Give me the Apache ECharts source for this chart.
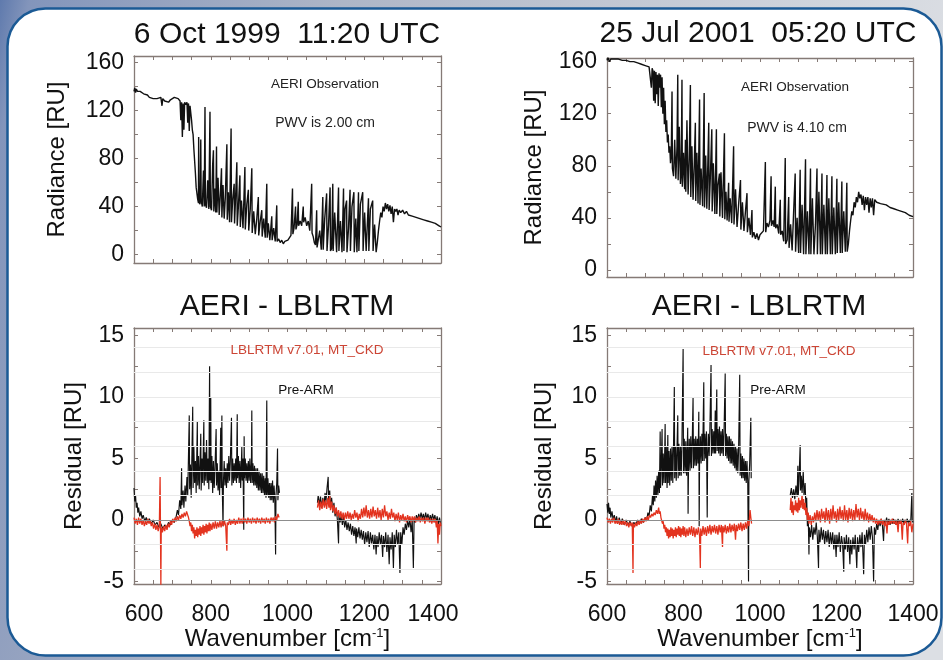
<!DOCTYPE html>
<html><head><meta charset="utf-8">
<script src="https://cdn.jsdelivr.net/npm/echarts@6/dist/echarts.min.js"></script>
<style>html,body{margin:0;padding:0;background:#fff}#c{width:943px;height:660px}</style>
</head><body><div id="c"></div>
<script>
// ---------- text ----------
const titleLeft = '6 Oct 1999  11:20 UTC';
const titleRight = '25 Jul 2001  05:20 UTC';
const residTitle = 'AERI - LBLRTM';
const obsLabel = 'AERI Observation';
const pwvLeft = 'PWV is 2.00 cm';
const pwvRight = 'PWV is 4.10 cm';
const newModelLabel = 'LBLRTM v7.01, MT_CKD';
const oldModelLabel = 'Pre-ARM';

// ---------- axes ----------
const wnRange = [600, 1400];
const wnTicks = [600,650,700,750,800,850,900,950,1000,1050,1100,1150,1200,1250,1300,1350,1400];
const wnLabels = [600,800,1000,1200,1400];
const radRangeLeft = [-7, 165.5];
const radRangeRight = [-5.4, 162.8];
const radTicks = [0,20,40,60,80,100,120,140,160];
const radLabels = [0,40,80,120,160];
const resRange = [-5.2, 15.6];
const resTicks = [-5,-2.5,0,2.5,5,7.5,10,12.5,15];
const resLabels = [-5,0,5,10,15];
const resGrid = [-4,-2,2,4,6,8,10,12,14];
const resZero = [0];

// ---------- radiance spectra [wavenumber, RU] ----------
const radOct1999 = [[600,136],[602,139],[604,135],[606,138],[609,136],[612,137],[616,136],[620,135],[625,134],[630,133],[635,133],[640,131],[645,132],[650,130],[655,131],[660,130],[665,129],[670,131],[673,124],[675,130],[680,128],[685,128],[690,127],[695,129],[700,130],[705,131],[710,131],[715,130],[720,128],[722,112],[724,127],[726,98],[728,126],[730,104],[732,127],[735,125],[738,127],[740,110],[742,126],[744,103],[746,124],[748,118],[750,112],[752,104],[754,100],[756,88],[758,78],[760,68],[762,56],[764,51],[766,46],[768,43],[768.5,98],[769,44],[772,42],[774,96],[775,45],[778,40],[781,70],[783,40],[785,123],[786,42],[789,39],[792,62],[795,38],[798,119],[799,40],[802,37],[805,75],[807,87],[808,36],[811,55],[813,35],[815,90],[816,35],[819,64],[822,33],[825,50],[828,72],[829,31],[832,58],[835,30],[838,48],[842,92],[843,29],[846,52],[849,27],[853,105],[854,27],[857,45],[861,59],[862,26],[865,50],[868,77],[869,24],[872,40],[876,66],[877,23],[880,45],[884,22],[889,73],[890,21],[894,42],[898,54],[899,20],[903,38],[907,72],[908,18],[912,36],[916,17],[920,30],[924,48],[925,16],[929,28],[933,37],[934,15],[938,30],[942,14],[946,59],[947,14],[950,26],[954,12],[959,32],[960,12],[964,22],[968,11],[972,41],[973,11],[977,13],[981,10],[985,12],[989,9],[993,11],[997,10],[1001,12],[1005,13],[1009,16],[1013,55],[1014,17],[1017,22],[1021,40],[1022,21],[1025,25],[1028,44],[1029,24],[1033,28],[1037,24],[1041,40],[1042,27],[1046,31],[1050,24],[1054,28],[1058,20],[1063,59],[1064,18],[1067,15],[1070,10],[1073,8],[1076,37],[1077,6],[1080,5],[1084,20],[1088,4],[1092,48],[1093,4],[1097,30],[1102,51],[1103,3],[1107,25],[1111,56],[1112,3],[1115,5],[1118,59],[1119,3],[1123,35],[1128,2],[1133,56],[1134,3],[1138,28],[1142,2],[1146,55],[1147,3],[1150,38],[1154,45],[1155,2],[1159,22],[1163,54],[1164,3],[1168,40],[1173,52],[1174,2],[1178,30],[1181,2],[1185,52],[1186,3],[1190,42],[1196,52],[1197,3],[1201,35],[1205,3],[1211,47],[1212,3],[1216,38],[1222,45],[1223,3],[1227,25],[1231,2],[1234,10],[1237,20],[1240,28],[1243,35],[1246,31],[1249,40],[1252,36],[1255,43],[1258,38],[1261,42],[1264,36],[1267,41],[1270,34],[1273,40],[1276,27],[1279,38],[1282,36],[1285,38],[1288,33],[1291,37],[1295,35],[1300,37],[1305,34],[1310,36],[1315,33],[1320,34],[1325,32],[1330,33],[1335,31],[1340,32],[1345,30],[1350,31],[1355,29],[1360,30],[1365,28],[1370,29],[1375,27],[1380,27],[1385,26],[1390,25],[1395,24],[1400,23]];

const radJul2001 = [[600,161],[603,163],[606,160],[610,162],[615,162],[620,162],[630,162],[640,161],[650,161],[660,160],[670,160],[680,159],[690,158],[700,157],[705,156],[710,156],[714,155],[716,140],[718,155],[720,153],[722,130],[724,153],[726,128],[728,152],[730,135],[732,150],[734,126],[736,151],[738,140],[740,150],[742,125],[744,148],[746,120],[748,140],[750,112],[752,130],[754,106],[756,115],[758,98],[760,104],[762,90],[764,95],[766,82],[768,88],[770,137],[771,78],[774,72],[777,100],[780,70],[783,95],[785,150],[786,69],[789,110],[792,66],[794,74],[796,146],[797,64],[800,90],[803,62],[805,100],[806,60],[809,115],[812,58],[815,85],[818,142],[819,56],[822,95],[825,54],[828,80],[831,113],[832,53],[835,90],[838,51],[842,131],[843,50],[846,78],[850,49],[854,136],[855,48],[858,88],[861,47],[866,113],[867,46],[870,70],[874,108],[875,45],[878,82],[882,43],[886,108],[887,43],[890,65],[894,74],[895,41],[898,75],[902,40],[907,105],[908,39],[911,60],[914,38],[918,67],[919,37],[922,55],[926,36],[931,95],[932,35],[936,62],[940,33],[944,50],[949,69],[950,31],[954,52],[958,30],[962,45],[966,59],[967,29],[971,40],[975,27],[979,46],[980,25],[984,29],[988,24],[992,28],[996,23],[1000,27],[1004,26],[1009,30],[1014,83],[1015,29],[1018,36],[1022,33],[1026,38],[1029,72],[1030,34],[1034,38],[1037,33],[1040,64],[1041,32],[1045,35],[1049,28],[1053,54],[1054,27],[1058,30],[1062,22],[1066,86],[1067,20],[1071,23],[1075,56],[1076,17],[1080,35],[1084,15],[1088,45],[1092,74],[1093,14],[1097,40],[1101,13],[1105,77],[1106,13],[1110,50],[1114,12],[1119,85],[1120,12],[1124,45],[1128,12],[1132,78],[1133,12],[1137,55],[1141,12],[1145,35],[1149,78],[1150,12],[1154,60],[1158,12],[1162,74],[1163,12],[1167,50],[1171,12],[1175,73],[1176,12],[1180,55],[1184,12],[1188,72],[1189,12],[1193,48],[1197,12],[1201,70],[1202,13],[1206,52],[1210,13],[1214,68],[1215,13],[1219,45],[1223,14],[1227,67],[1228,14],[1231,20],[1234,30],[1237,38],[1240,45],[1243,42],[1246,52],[1249,48],[1252,56],[1255,52],[1258,60],[1261,55],[1264,58],[1267,50],[1270,57],[1273,46],[1276,56],[1279,50],[1282,56],[1285,44],[1288,55],[1291,48],[1294,55],[1297,42],[1300,54],[1305,52],[1310,53],[1315,51],[1320,51],[1330,50],[1340,48],[1350,47],[1360,46],[1370,45],[1380,44],[1390,42],[1400,41]];

// ---------- residuals, 6 Oct 1999 [wavenumber, RU] ----------
const preArmOctA = [[600,2.6],[602,1.5],[604,2.0],[606,1.0],[608,1.4],[610,0.6],[612,1.0],[615,0.3],[618,0.7],[621,0.1],[624,0.4],[628,-0.1],[632,0.2],[636,-0.2],[640,0.1],[645,-0.3],[650,0.0],[655,-0.4],[660,-0.2],[665,-0.6],[670,-0.3],[675,-0.7],[680,-0.4],[685,-0.6],[690,-0.2],[695,-0.4],[700,0.0],[705,-0.2],[710,0.3],[713,0.8],[716,0.4],[719,1.6],[722,0.9],[724,4.2],[725,1.2],[728,2.4],[730,1.0],[733,2.8],[735,1.5],[738,3.5],[740,2.0],[744,8.5],[745,2.5],[747,4.5],[749,1.8],[751,5.5],[753,9.2],[754,2.6],[756,6.0],[758,3.0],[760,4.8],[762,2.2],[765,8.0],[766,2.8],[768,5.2],[770,2.5],[772,4.6],[774,7.0],[775,2.4],[777,5.0],[779,3.0],[782,8.1],[783,2.8],[785,5.5],[787,3.2],[789,6.5],[791,3.0],[793,5.0],[795,2.5],[797,12.5],[798,3.2],[800,10.0],[801,3.0],[803,5.2],[805,2.2],[807,4.8],[809,2.6],[811,4.2],[814,7.4],[815,2.8],[817,4.6],[819,2.4],[821,4.0],[823,2.0],[826,7.5],[827,2.6],[829,8.5],[830,2.6],[832,-0.5],[833,3.0],[835,4.8],[837,2.8],[839,4.2],[841,2.6],[843,4.6],[845,3.0],[847,5.2],[849,3.2],[851,4.8],[854,8.3],[855,2.8],[857,5.0],[859,3.0],[861,4.6],[863,3.2],[865,5.0],[867,3.0],[869,8.6],[870,3.4],[872,5.2],[874,3.0],[876,4.8],[878,2.6],[881,6.0],[882,3.2],[884,5.0],[886,-0.8],[887,6.8],[888,3.4],[890,5.0],[892,3.2],[894,4.6],[896,3.0],[898,4.8],[900,3.2],[902,5.0],[904,3.0],[906,4.6],[907,8.9],[908,3.0],[910,4.6],[912,2.8],[914,4.4],[916,2.8],[918,4.2],[920,2.6],[922,4.2],[924,2.4],[926,4.0],[928,2.4],[930,3.8],[932,2.2],[934,3.8],[936,2.2],[938,3.6],[940,2.0],[942,3.4],[944,1.8],[946,9.7],[947,2.0],[949,3.4],[951,1.8],[953,3.0],[955,1.6],[957,3.0],[959,1.6],[961,3.2],[963,1.4],[965,2.8],[967,1.5],[969,-2.8],[970,2.0],[972,3.0],[974,5.8],[975,1.6],[977,2.8],[979,2.2]];
const preArmOctB = [[1078,1.4],[1080,2.0],[1083,1.2],[1086,1.9],[1089,1.0],[1092,1.8],[1095,1.2],[1098,2.2],[1100,1.4],[1103,2.6],[1106,3.5],[1107,1.6],[1110,2.4],[1112,1.0],[1115,1.8],[1118,0.6],[1121,1.4],[1124,0.3],[1127,1.0],[1130,0.0],[1133,-1.9],[1134,0.4],[1137,-0.2],[1140,0.4],[1143,-0.4],[1146,0.3],[1149,-0.6],[1152,0.0],[1155,-0.8],[1158,-0.2],[1161,-0.9],[1164,-0.3],[1167,-1.2],[1170,-0.5],[1173,-1.3],[1176,-0.6],[1179,-1.9],[1180,-0.7],[1183,-1.4],[1186,-0.6],[1189,-1.5],[1192,-0.8],[1195,-1.6],[1198,-0.9],[1201,-2.0],[1204,-1.0],[1207,-1.8],[1210,-0.9],[1213,-2.2],[1216,-1.0],[1219,-1.9],[1222,-1.2],[1225,-2.4],[1228,-1.2],[1231,-2.8],[1233,-1.3],[1236,-2.2],[1239,-1.0],[1242,-2.0],[1245,-1.2],[1248,-3.0],[1250,-1.3],[1253,-2.2],[1256,-1.0],[1259,-2.6],[1262,-1.2],[1265,-3.6],[1267,-1.4],[1270,-2.4],[1273,-1.0],[1276,-3.9],[1278,-1.2],[1281,-2.2],[1284,-0.8],[1287,-2.0],[1290,-1.0],[1293,-4.3],[1295,-1.0],[1298,-2.0],[1301,-0.6],[1304,-1.2],[1307,-0.3],[1310,-0.8],[1313,0.0],[1316,-0.6],[1319,0.1],[1322,-1.0],[1325,0.0],[1328,-3.9],[1330,0.2],[1333,-0.2],[1336,0.4],[1339,0.0],[1342,0.5],[1345,0.1],[1348,0.6],[1351,0.1],[1354,0.5],[1357,0.0],[1360,0.6],[1363,0.1],[1366,0.5],[1369,-0.1],[1372,0.4],[1375,0.0],[1378,0.5],[1381,0.0],[1384,0.4],[1387,-0.2],[1390,0.3],[1393,-0.4],[1396,0.2],[1399,-0.3]];
const mtckdOctA = [[600,0.2],[603,-0.3],[606,0.1],[609,-0.4],[612,0.2],[615,-0.3],[618,0.1],[621,-0.4],[624,0.0],[627,-0.5],[630,-0.1],[633,-0.4],[636,0.1],[639,-0.3],[642,0.0],[645,-0.5],[648,-0.2],[651,-0.7],[654,-0.3],[657,-0.8],[660,-0.4],[663,-0.9],[666,-0.5],[668,3.5],[669,-0.7],[670,-5.3],[671,-0.6],[674,-1.0],[677,-0.5],[680,-0.9],[683,-0.4],[686,-0.8],[689,-0.3],[692,-0.6],[695,-0.1],[698,-0.4],[701,0.1],[704,-0.2],[707,0.2],[710,-0.1],[713,0.3],[716,0.0],[719,0.4],[722,0.1],[725,0.5],[728,0.2],[731,0.6],[734,0.3],[737,0.7],[740,0.4],[742,0.2],[744,-0.1],[746,-0.5],[748,-0.2],[750,-0.9],[752,-0.4],[754,-1.1],[756,-0.6],[758,-1.5],[760,-0.8],[762,-1.3],[764,-0.6],[766,-1.4],[768,-0.7],[770,-1.2],[772,-0.5],[774,-1.3],[776,-0.6],[778,-1.1],[780,-0.4],[782,-1.2],[784,-0.5],[786,-1.0],[788,-0.3],[790,-1.1],[792,-0.4],[794,-0.9],[796,-0.2],[798,-0.9],[800,-0.3],[803,-0.8],[806,-0.2],[809,-0.7],[812,-0.1],[815,-0.7],[818,-0.2],[821,-0.6],[824,-0.1],[827,-0.6],[830,0.0],[833,-0.5],[836,-0.1],[839,-0.5],[842,-2.5],[843,-0.2],[846,-0.4],[849,0.1],[852,-0.4],[855,0.0],[858,-0.3],[861,0.1],[864,-0.4],[867,0.0],[870,-0.3],[873,0.2],[876,-0.3],[879,0.1],[882,-0.3],[885,0.2],[888,-0.2],[891,0.1],[894,-0.3],[897,0.2],[900,-0.2],[903,0.1],[906,-0.3],[909,0.2],[912,-0.2],[915,0.1],[918,-0.3],[921,0.2],[924,-0.2],[927,0.1],[930,-0.3],[933,0.2],[936,-0.2],[939,0.1],[942,-0.3],[945,0.2],[948,-0.2],[951,0.1],[954,-0.3],[957,0.2],[960,-0.1],[963,0.2],[966,-0.2],[969,0.3],[972,0.0],[975,0.5],[978,0.2]];
const mtckdOctB = [[1078,1.0],[1081,1.6],[1084,0.8],[1087,1.5],[1090,0.9],[1093,1.7],[1096,1.0],[1099,1.6],[1102,0.9],[1105,1.8],[1108,1.0],[1110,2.0],[1112,0.8],[1115,1.5],[1118,0.7],[1121,1.2],[1124,0.5],[1127,1.0],[1130,0.3],[1133,0.8],[1136,0.2],[1139,0.7],[1142,0.1],[1145,0.6],[1148,0.0],[1151,0.6],[1154,0.1],[1157,0.7],[1160,0.1],[1163,0.6],[1166,0.0],[1169,0.5],[1172,0.1],[1175,0.8],[1178,0.2],[1181,0.6],[1184,-0.1],[1187,0.5],[1190,0.1],[1193,0.9],[1196,0.2],[1199,1.0],[1202,0.3],[1205,1.2],[1208,0.2],[1211,0.8],[1214,0.1],[1217,0.9],[1220,0.2],[1223,1.1],[1226,0.3],[1229,0.8],[1232,0.1],[1235,1.0],[1238,0.2],[1241,0.8],[1244,0.0],[1247,0.9],[1250,0.2],[1253,1.2],[1256,0.3],[1259,0.7],[1262,0.0],[1265,0.6],[1268,0.1],[1271,0.9],[1274,0.2],[1277,0.6],[1280,-0.1],[1283,0.5],[1286,0.0],[1289,0.6],[1292,-0.2],[1295,0.4],[1298,0.0],[1301,0.5],[1304,-0.1],[1307,0.3],[1310,-0.2],[1313,0.4],[1316,0.0],[1319,0.3],[1322,-0.2],[1325,0.3],[1328,-0.1],[1331,0.3],[1334,-0.2],[1337,0.2],[1340,-0.1],[1343,0.3],[1346,-0.2],[1349,0.2],[1352,-0.1],[1355,0.2],[1358,-0.3],[1361,0.2],[1364,-0.1],[1367,0.2],[1370,-0.2],[1373,0.1],[1376,-0.3],[1379,0.1],[1382,-0.2],[1385,0.1],[1388,-0.6],[1390,0.0],[1392,-1.9],[1394,-0.3],[1396,-1.2],[1398,-0.2],[1400,-0.5]];

// ---------- residuals, 25 Jul 2001 [wavenumber, RU] ----------
const preArmJulA = [[600,1.3],[602,0.6],[604,1.4],[606,0.5],[608,1.0],[610,0.2],[613,0.7],[616,0.0],[619,0.4],[622,-0.2],[625,0.3],[628,-0.3],[632,0.2],[636,-0.3],[640,0.1],[645,-0.4],[650,0.0],[655,-0.4],[660,-0.1],[665,-0.5],[670,-0.2],[675,-0.4],[680,0.0],[685,-0.3],[690,0.1],[695,-0.2],[700,0.2],[704,0.0],[707,0.6],[710,0.3],[713,1.2],[716,0.7],[719,2.0],[721,1.2],[723,2.8],[725,1.5],[727,3.2],[729,1.8],[731,3.6],[733,2.0],[735,4.0],[737,2.2],[739,7.2],[740,2.6],[742,4.6],[744,7.4],[745,2.8],[747,5.4],[749,3.0],[751,5.8],[752,7.8],[753,3.0],[755,6.0],[757,2.6],[759,6.9],[760,3.0],[762,5.6],[764,2.8],[766,5.8],[768,3.2],[770,6.0],[772,3.0],[774,6.2],[776,10.8],[777,3.4],[779,6.0],[781,3.2],[783,5.8],[785,8.5],[786,3.4],[788,6.2],[790,3.6],[792,6.0],[794,3.6],[796,6.4],[799,13.9],[800,3.8],[802,6.6],[804,3.8],[806,6.4],[808,3.6],[811,7.5],[812,0.5],[813,4.0],[815,6.6],[817,4.0],[819,6.8],[821,4.2],[823,6.6],[825,10.0],[826,4.2],[828,6.6],[830,4.4],[832,6.8],[834,4.4],[836,6.6],[838,4.6],[840,8.8],[841,-0.5],[842,4.6],[844,6.8],[846,4.6],[848,7.0],[850,4.8],[853,11.2],[854,4.8],[856,7.0],[858,5.0],[860,7.2],[862,0.2],[863,5.0],[865,7.0],[867,5.2],[869,7.4],[872,12.6],[873,5.2],[875,7.4],[877,5.4],[879,7.2],[881,5.4],[883,8.9],[884,5.4],[887,10.6],[888,5.6],[890,7.4],[892,5.4],[894,7.6],[896,5.2],[898,7.2],[900,5.4],[902,7.4],[904,5.2],[906,7.2],[909,11.9],[910,5.2],[912,7.0],[914,5.0],[916,6.8],[918,4.8],[920,6.8],[922,4.6],[924,6.6],[926,4.6],[928,6.4],[930,4.4],[932,6.2],[934,4.2],[936,6.0],[938,4.0],[940,5.8],[942,3.8],[944,5.6],[947,11.8],[948,3.6],[950,5.4],[952,3.4],[954,5.2],[956,3.4],[958,5.0],[960,3.2],[962,4.8],[964,3.0],[966,4.8],[968,3.0],[970,-5.0],[971,3.2],[973,4.6],[976,8.3],[977,3.4]];
const preArmJulB = [[1079,2.0],[1082,2.6],[1085,1.8],[1088,2.5],[1091,1.7],[1094,2.8],[1097,1.9],[1099,4.4],[1100,2.0],[1102,3.2],[1105,6.1],[1106,2.4],[1108,3.6],[1110,2.2],[1113,4.0],[1115,2.0],[1118,3.0],[1120,1.0],[1122,1.8],[1124,-0.5],[1126,0.5],[1128,-2.8],[1129,-0.6],[1132,-1.4],[1135,-0.4],[1138,-1.6],[1141,-0.6],[1144,-1.2],[1147,-0.2],[1150,-1.4],[1153,-3.9],[1154,-0.8],[1157,-1.8],[1160,-0.6],[1163,-1.6],[1166,-0.8],[1169,-2.0],[1172,-0.9],[1175,-1.8],[1178,-0.8],[1181,-2.2],[1184,-1.0],[1187,-2.0],[1190,-1.0],[1193,-2.4],[1196,-1.2],[1199,-3.0],[1201,-1.2],[1204,-2.2],[1207,-1.0],[1210,-2.6],[1213,-1.3],[1216,-2.0],[1219,-4.2],[1220,-1.4],[1223,-2.4],[1226,-1.2],[1229,-2.6],[1232,-1.4],[1235,-3.6],[1237,-1.6],[1240,-2.8],[1243,-1.4],[1246,-2.4],[1249,-1.2],[1253,-3.9],[1255,-1.4],[1258,-2.6],[1261,-1.2],[1264,-2.2],[1267,-1.0],[1271,-4.4],[1273,-1.2],[1276,-2.0],[1279,-0.8],[1282,-1.8],[1285,-0.6],[1288,-1.6],[1291,-0.5],[1294,-1.4],[1297,-5.0],[1299,-0.6],[1302,-1.2],[1305,-0.3],[1308,-0.8],[1311,0.0],[1314,-0.5],[1317,0.1],[1320,-0.4],[1323,-1.7],[1325,0.0],[1328,-0.3],[1331,0.2],[1334,-0.3],[1337,0.1],[1340,-0.4],[1343,0.0],[1346,-0.3],[1349,0.1],[1352,-0.3],[1355,0.0],[1358,-0.4],[1361,0.1],[1364,-0.3],[1367,0.0],[1370,-0.2],[1373,0.1],[1376,-0.3],[1379,0.0],[1382,-0.2],[1385,0.1],[1388,-0.3],[1391,0.0],[1394,-0.2],[1397,2.2],[1398,0.0],[1400,-0.2]];
const mtckdJulA = [[600,0.2],[603,-0.2],[606,0.1],[609,-0.3],[612,0.1],[615,-0.2],[618,0.2],[621,-0.3],[624,0.0],[627,-0.3],[630,0.1],[633,-0.4],[636,-0.1],[639,-0.4],[642,0.0],[645,-0.4],[648,-0.1],[651,-0.5],[654,-0.2],[657,-0.6],[660,-0.2],[663,-0.5],[666,-0.2],[668,-4.3],[669,-0.3],[672,-0.6],[675,-0.2],[678,-0.5],[681,-0.1],[684,-0.4],[687,0.0],[690,-0.3],[693,0.1],[696,-0.2],[699,0.2],[702,-0.1],[705,0.3],[708,0.0],[711,0.4],[714,0.2],[717,0.5],[720,0.3],[723,0.6],[726,0.4],[729,0.8],[732,0.5],[735,1.0],[737,0.5],[739,0.7],[741,0.2],[743,0.3],[745,-0.3],[747,-0.1],[749,-0.7],[751,-0.4],[753,-1.0],[755,-0.6],[757,-1.3],[759,-0.7],[761,-1.5],[763,-0.8],[765,-1.4],[767,-0.6],[769,-1.3],[771,-0.7],[773,-1.5],[775,-0.8],[777,-1.3],[779,-0.6],[781,-1.4],[783,-0.7],[785,-1.2],[787,-0.5],[789,-1.3],[791,-0.6],[793,-1.4],[795,-0.7],[797,-1.2],[799,-0.5],[801,-1.3],[803,-0.6],[806,-1.4],[809,-0.7],[812,-1.3],[815,-0.6],[818,-1.2],[821,-0.5],[824,-1.3],[827,-0.6],[830,-1.4],[833,-0.7],[836,-1.2],[839,-0.6],[842,-1.3],[844,-3.9],[845,-0.7],[848,-1.3],[851,-0.5],[854,-1.2],[857,-0.6],[860,-1.3],[863,-0.5],[866,-1.1],[869,-0.4],[872,-1.2],[875,-0.5],[878,-1.0],[881,-0.4],[884,-1.1],[887,-0.5],[890,-1.2],[893,-0.4],[896,-1.0],[899,-0.4],[902,-2.2],[903,-0.5],[906,-1.0],[909,-0.4],[912,-1.1],[915,-0.5],[918,-1.0],[921,-0.3],[924,-1.0],[927,-0.4],[930,-0.9],[933,-0.3],[936,-1.6],[938,-0.4],[941,-0.9],[944,-0.3],[947,-0.8],[950,-0.2],[953,-0.9],[956,-0.3],[959,-0.8],[962,-0.2],[965,-0.7],[968,0.0],[971,-0.5],[974,0.8],[976,0.2],[978,-0.3]];
const mtckdJulB = [[1079,0.8],[1081,1.8],[1083,0.6],[1085,1.5],[1087,0.4],[1089,1.2],[1091,0.8],[1093,1.6],[1095,0.7],[1097,1.4],[1099,0.6],[1101,1.8],[1103,0.8],[1105,1.6],[1107,1.0],[1110,2.0],[1112,0.9],[1114,1.7],[1116,0.8],[1118,1.4],[1120,0.4],[1122,1.0],[1124,0.0],[1126,0.6],[1128,-0.3],[1131,0.4],[1134,-0.4],[1137,0.3],[1140,-0.2],[1143,0.6],[1146,-0.1],[1149,0.8],[1152,0.0],[1155,0.7],[1158,-0.2],[1161,0.9],[1164,0.1],[1167,0.7],[1170,-0.2],[1173,1.0],[1176,0.0],[1179,0.8],[1182,-0.3],[1185,0.9],[1188,0.0],[1191,1.2],[1194,0.1],[1197,0.7],[1200,-0.2],[1203,0.9],[1206,0.0],[1209,1.1],[1212,0.1],[1215,0.8],[1218,-0.1],[1221,1.2],[1224,0.0],[1227,0.8],[1230,-0.2],[1233,1.0],[1236,0.1],[1239,0.9],[1242,-0.1],[1245,0.8],[1248,0.0],[1251,1.3],[1254,0.2],[1257,0.9],[1260,0.0],[1263,1.0],[1266,0.1],[1269,0.7],[1272,-0.1],[1275,0.9],[1278,0.0],[1281,0.6],[1284,-0.2],[1287,0.5],[1290,-0.1],[1293,0.4],[1296,-0.2],[1299,0.2],[1302,-0.3],[1305,0.1],[1308,-0.4],[1311,0.0],[1314,-0.3],[1317,0.1],[1320,-0.4],[1323,0.0],[1326,-0.5],[1329,-0.1],[1332,-1.1],[1334,-0.1],[1337,-0.4],[1340,0.0],[1343,-0.3],[1346,0.1],[1349,-0.3],[1352,0.0],[1355,-0.4],[1358,-0.1],[1361,-1.0],[1363,-0.1],[1366,-0.3],[1369,0.0],[1372,-1.6],[1374,-0.2],[1377,-0.4],[1380,0.0],[1383,-0.3],[1386,-1.9],[1388,-0.2],[1391,-0.5],[1394,-0.1],[1397,-1.0],[1400,-0.3]];

// ---------- rendering ----------
const FONT = '"Liberation Sans", Arial, Helvetica, sans-serif';
const AXC = '#857a76';
const INK = '#111111';
const RED = '#e3331f';

const grids = [
  {left:134, top:56,  width:307, height:207},
  {left:607, top:58,  width:306, height:219},
  {left:134, top:328, width:307, height:256},
  {left:607, top:328, width:306, height:256}
];

function xPair(g, showLabels, shiftEnds) {
  const lab = {fontSize:23, color:INK, fontFamily:FONT};
  return [{
    type:'value', gridIndex:g, min:wnRange[0], max:wnRange[1], position:'bottom',
    axisLine:{show:true, onZero:false, lineStyle:{color:AXC, width:1.3}},
    axisTick:{show:true, inside:true, length:4, customValues:wnTicks, lineStyle:{color:AXC}},
    axisLabel:{show:showLabels, customValues:wnLabels, margin:19, fontSize:23, color:INK, fontFamily:FONT,
      formatter: v => shiftEnds ? (v === wnRange[0] ? '{l|' + v + '}' : (v === wnRange[1] ? '{r|' + v + '}' : String(v))) : String(v),
      rich:{l:Object.assign({padding:[0,0,0,20]}, lab), r:Object.assign({padding:[0,16,0,0]}, lab)}},
    splitLine:{show:false},
    name: showLabels ? 'Wavenumber [cm{sup|-1}]' : '', nameLocation:'middle', nameGap:42,
    nameTextStyle:{fontSize:24, color:INK, fontFamily:FONT, rich:{sup:{fontSize:13, color:INK, fontFamily:FONT, verticalAlign:'top', padding:[0,0,12,0]}}}
  }, {
    type:'value', gridIndex:g, min:wnRange[0], max:wnRange[1], position:'top',
    axisLine:{show:true, onZero:false, lineStyle:{color:AXC, width:1.3}},
    axisTick:{show:true, inside:true, length:4, customValues:wnTicks, lineStyle:{color:AXC}},
    axisLabel:{show:false}, splitLine:{show:false}
  }];
}
function yPair(g, range, ticks, labels, name, gap) {
  return [{
    type:'value', gridIndex:g, min:range[0], max:range[1], position:'left',
    axisLine:{show:true, onZero:false, lineStyle:{color:AXC, width:1.3}},
    axisTick:{show:true, inside:true, length:4, customValues:ticks, lineStyle:{color:AXC}},
    axisLabel:{show:true, customValues:labels, margin:10, fontSize:23, color:INK, fontFamily:FONT},
    splitLine:{show:false},
    name:name, nameLocation:'middle', nameRotate:90, nameGap:gap,
    nameTextStyle:{fontSize:24, color:INK, fontFamily:FONT}
  }, {
    type:'value', gridIndex:g, min:range[0], max:range[1], position:'right',
    axisLine:{show:true, onZero:false, lineStyle:{color:AXC, width:1.3}},
    axisTick:{show:true, inside:true, length:4, customValues:ticks, lineStyle:{color:AXC}},
    axisLabel:{show:false}, splitLine:{show:false}
  }];
}

const xAxis = [].concat(xPair(0,false,false), xPair(1,false,false), xPair(2,true,true), xPair(3,true,false));
const yAxis = [].concat(
  yPair(0, radRangeLeft, radTicks, radLabels, 'Radiance [RU]', 65),
  yPair(1, radRangeRight, radTicks, radLabels, 'Radiance [RU]', 61),
  yPair(2, resRange, resTicks, resLabels, 'Residual [RU]', 48),
  yPair(3, resRange, resTicks, resLabels, 'Residual [RU]', 51)
);

function line(g, data, color, width, z) {
  return {type:'line', xAxisIndex:g*2, yAxisIndex:g*2, data:data, symbol:'none', showSymbol:false,
    clip:true, animation:false, silent:true, z:z, lineStyle:{color:color, width:width, join:'bevel'}};
}
function refLines(g, values, color, width, z) {
  return {type:'line', xAxisIndex:g*2, yAxisIndex:g*2, data:[], z:z, silent:true, animation:false,
    markLine:{silent:true, animation:false, symbol:['none','none'], label:{show:false},
      lineStyle:{color:color, width:width, type:'solid'}, data: values.map(v => ({yAxis:v}))}};
}

const series = [
  line(0, radOct1999, INK, 1.4, 3),
  line(1, radJul2001, INK, 1.4, 3),
  refLines(2, resGrid, '#e9e9e9', 1, 1),
  refLines(2, resZero, '#8d8d8d', 1.2, 1),
  line(2, preArmOctA, INK, 1.15, 3), line(2, preArmOctB, INK, 1.15, 3),
  line(2, mtckdOctA, RED, 1.3, 4), line(2, mtckdOctB, RED, 1.3, 4),
  refLines(3, resGrid, '#e9e9e9', 1, 1),
  refLines(3, resZero, '#8d8d8d', 1.2, 1),
  line(3, preArmJulA, INK, 1.15, 3), line(3, preArmJulB, INK, 1.15, 3),
  line(3, mtckdJulA, RED, 1.3, 4), line(3, mtckdJulB, RED, 1.3, 4)
];

function txt(x, y, text, size, color) {
  return {type:'text', x:x, y:y, z:100, silent:true,
    style:{text:text, fill:color, fontSize:size, fontFamily:FONT, align:'center', verticalAlign:'middle', textAlign:'center', textVerticalAlign:'middle'}};
}

const graphic = [
  {type:'rect', z:-20, silent:true, shape:{x:0, y:0, width:943, height:660},
   style:{fill:new echarts.graphic.LinearGradient(0,0,1,0.3,[{offset:0,color:'#5f7aad'},{offset:0.03,color:'#8395bb'},{offset:0.35,color:'#aeb6c7'},{offset:1,color:'#dcdfe4'}])}},
  {type:'rect', z:-10, silent:true, shape:{x:7.5, y:8.5, width:934, height:647, r:38},
   style:{fill:'#ffffff', stroke:'#1b5a95', lineWidth:2.5}},
  txt(287, 35, titleLeft, 30, INK),
  txt(758, 34, titleRight, 30, INK),
  txt(287, 307, residTitle, 30, INK),
  txt(759, 307, residTitle, 30, INK),
  txt(325, 84, obsLabel, 13.5, '#222'),
  txt(325, 123, pwvLeft, 14, '#222'),
  txt(795, 87, obsLabel, 13.5, '#222'),
  txt(797, 128, pwvRight, 14, '#222'),
  txt(307, 350, newModelLabel, 13.5, '#cc4535'),
  txt(306, 390, oldModelLabel, 13.5, INK),
  txt(779, 351, newModelLabel, 13.5, '#cc4535'),
  txt(778, 390, oldModelLabel, 13.5, INK)
];

const chart = echarts.init(document.getElementById('c'), null, {renderer:'canvas', width:943, height:660});
chart.setOption({
  animation:false,
  backgroundColor:'transparent',
  grid: grids,
  xAxis: xAxis,
  yAxis: yAxis,
  series: series,
  graphic: graphic
});
</script></body></html>
